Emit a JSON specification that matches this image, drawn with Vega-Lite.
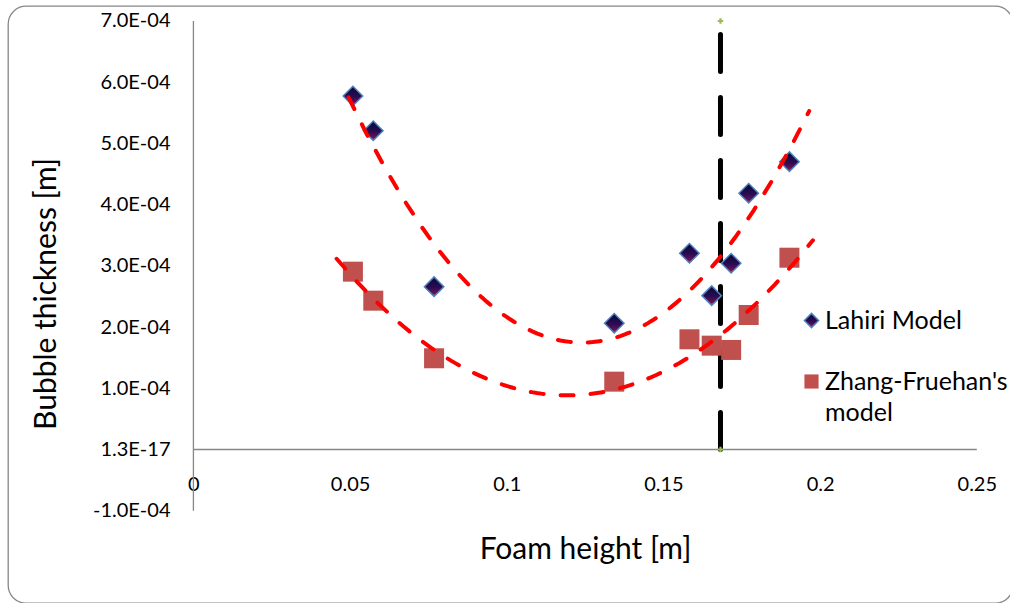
{
  "$schema": "https://vega.github.io/schema/vega-lite/v6.json",
  "width": 1005,
  "height": 597,
  "autosize": {"type": "none"},
  "padding": {"left": 8, "top": 6, "right": -3, "bottom": 0},
  "background": "white",
  "config": {
    "font": "Lato",
    "view": {"stroke": "#878787", "strokeWidth": 1.3, "cornerRadius": 18},
    "style": {"guide-label": {"lineHeight": 31}},
    "axis": {
      "domain": false, "ticks": false, "tickSize": 0, "grid": false,
      "labelColor": "#000000", "labelFont": "Lato", "labelFontSize": 20,
      "labelFlush": false, "labelOverlap": false,
      "titleColor": "#000000", "titleFont": "Lato", "titleFontSize": 30, "titleFontWeight": "normal"
    },
    "legend": {
      "labelFont": "Lato", "labelFontSize": 25, "labelColor": "#000000",
      "labelLimit": 400, "labelBaseline": "middle", "padding": 0, "symbolSize": 200
    }
  },
  "resolve": {"scale": {"shape": "independent"}, "legend": {"shape": "independent"}},
  "datasets": {
    "bubbles": [
      {"h": 0.0509, "t": 0.0005775, "series": "Lahiri Model"},
      {"h": 0.0574, "t": 0.0005208, "series": "Lahiri Model"},
      {"h": 0.0768, "t": 0.000266, "series": "Lahiri Model"},
      {"h": 0.1343, "t": 0.0002062, "series": "Lahiri Model"},
      {"h": 0.1583, "t": 0.0003205, "series": "Lahiri Model"},
      {"h": 0.1654, "t": 0.0002513, "series": "Lahiri Model"},
      {"h": 0.1716, "t": 0.0003042, "series": "Lahiri Model"},
      {"h": 0.1772, "t": 0.0004186, "series": "Lahiri Model"},
      {"h": 0.1902, "t": 0.0004702, "series": "Lahiri Model"},
      {"h": 0.0509, "t": 0.0002905, "series": "Zhang-Fruehan's model"},
      {"h": 0.0574, "t": 0.0002431, "series": "Zhang-Fruehan's model"},
      {"h": 0.0768, "t": 0.000149, "series": "Zhang-Fruehan's model"},
      {"h": 0.1343, "t": 0.0001108, "series": "Zhang-Fruehan's model"},
      {"h": 0.1583, "t": 0.00018, "series": "Zhang-Fruehan's model"},
      {"h": 0.1654, "t": 0.0001696, "series": "Zhang-Fruehan's model"},
      {"h": 0.1716, "t": 0.0001626, "series": "Zhang-Fruehan's model"},
      {"h": 0.1772, "t": 0.0002197, "series": "Zhang-Fruehan's model"},
      {"h": 0.1902, "t": 0.0003133, "series": "Zhang-Fruehan's model"}
    ],
    "limit": [
      {"h": 0.1682, "t": 0},
      {"h": 0.1682, "t": 0.0007}
    ],
    "y_axis_line": [
      {"h": 0, "t": -0.0001},
      {"h": 0, "t": 0.0007}
    ],
    "x_axis_line": [
      {"h": 0, "t": 0},
      {"h": 0.25, "t": 0}
    ]
  },
  "data": {"name": "bubbles"},
  "encoding": {
    "x": {
      "field": "h", "type": "quantitative",
      "scale": {"domain": [-0.05917, 0.26155], "nice": false, "zero": false},
      "axis": {
        "orient": "bottom", "offset": -153.5,
        "values": [0, 0.05, 0.1, 0.15, 0.2, 0.25], "format": ".2~f",
        "labelPadding": 35, "labelBaseline": "middle",
        "title": "Foam height [m]", "titleX": 577, "titleY": 108.8, "titleBaseline": "alphabetic"
      }
    },
    "y": {
      "field": "t", "type": "quantitative",
      "scale": {"domain": [-0.0002508, 0.0007245], "nice": false, "zero": false},
      "axis": {
        "orient": "left", "offset": -185.4,
        "values": [-0.0001, 0, 0.0001, 0.0002, 0.0003, 0.0004, 0.0005, 0.0006, 0.0007],
        "labelExpr": "datum.value == 0 ? '1.3E-17' : (datum.value < 0 ? '-' : '') + format(abs(datum.value) * 10000, '.1f') + 'E-04'",
        "labelPadding": 23.4, "labelBaseline": "middle",
        "title": "Bubble thickness [m]", "titleX": -138.4, "titleY": 287.5,
        "titleBaseline": "alphabetic", "titleAngle": 270
      }
    }
  },
  "layer": [
    {
      "data": {"name": "y_axis_line"},
      "mark": {"type": "line", "color": "#868686", "strokeWidth": 1.3},
      "encoding": {"order": {"field": "t", "type": "quantitative"}}
    },
    {
      "data": {"name": "x_axis_line"},
      "mark": {"type": "line", "color": "#868686", "strokeWidth": 1.3}
    },
    {
      "data": {"name": "limit"},
      "mark": {"type": "line", "color": "#000000", "strokeWidth": 5, "strokeDash": [37, 26], "strokeCap": "round"},
      "encoding": {"order": {"field": "t", "type": "quantitative"}}
    },
    {
      "data": {"name": "limit"},
      "mark": {"type": "point", "shape": "cross", "filled": true, "color": "#9bbb59", "size": 30, "opacity": 1}
    },
    {
      "transform": [{"filter": "datum.series === 'Lahiri Model'"}],
      "mark": {
        "type": "point", "filled": true, "size": 380, "opacity": 1,
        "fill": {
          "gradient": "linear", "x1": 0, "y1": 0, "x2": 0, "y2": 1,
          "stops": [
            {"offset": 0, "color": "#06083a"},
            {"offset": 0.55, "color": "#2c0c52"},
            {"offset": 0.85, "color": "#6a1256"},
            {"offset": 1, "color": "#c8501e"}
          ]
        },
        "stroke": "#4f81bd", "strokeWidth": 1.5
      },
      "encoding": {
        "shape": {
          "field": "series", "type": "nominal",
          "scale": {"range": ["diamond"]},
          "legend": {
            "title": null, "orient": "none", "legendX": 791, "legendY": 302,
            "labelOffset": 1
          }
        }
      }
    },
    {
      "transform": [{"filter": "datum.series !== 'Lahiri Model'"}],
      "mark": {"type": "point", "filled": true, "size": 400, "opacity": 1, "fill": "#c0504d", "strokeWidth": 0},
      "encoding": {
        "shape": {
          "field": "series", "type": "nominal",
          "scale": {"range": ["square"]},
          "legend": {
            "title": null, "orient": "none", "legendX": 791, "legendY": 363,
            "labelOffset": 1,
            "labelExpr": "split(datum.label, ' ')"
          }
        }
      }
    },
    {
      "transform": [
        {"filter": "datum.series === 'Lahiri Model'"},
        {"regression": "t", "on": "h", "method": "poly", "order": 2, "extent": [0.0495, 0.1965]}
      ],
      "mark": {"type": "line", "color": "#ff0000", "strokeWidth": 4, "strokeDash": [13, 17], "strokeCap": "round"}
    },
    {
      "transform": [
        {"filter": "datum.series !== 'Lahiri Model'"},
        {"regression": "t", "on": "h", "method": "poly", "order": 2, "extent": [0.0457, 0.1977]}
      ],
      "mark": {"type": "line", "color": "#ff0000", "strokeWidth": 4, "strokeDash": [13, 17], "strokeCap": "round"}
    }
  ]
}
